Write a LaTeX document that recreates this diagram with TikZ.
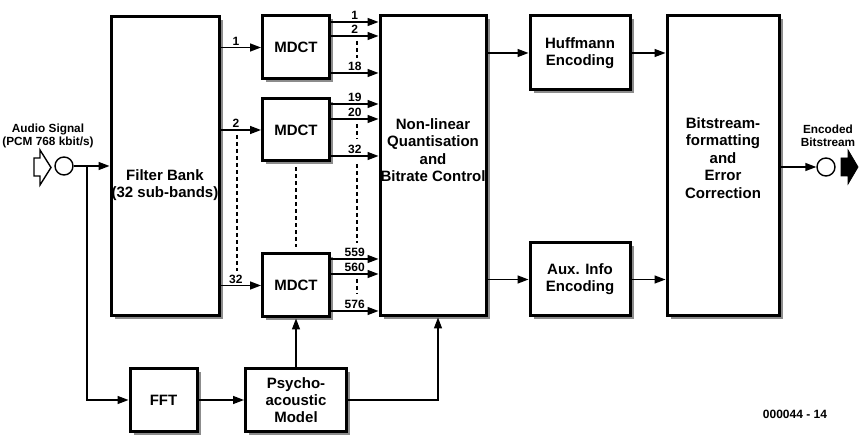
\documentclass[tikz,border=0pt]{standalone}
\usepackage{fontspec}
\setmainfont{Liberation Sans}
\usetikzlibrary{arrows.meta,shadows,calc}
\begin{document}
\begin{tikzpicture}[x=1pt,y=-1pt,
  box/.style={draw, line width=3pt, fill=white,
    drop shadow={shadow xshift=3.5pt, shadow yshift=-3.5pt, fill=black!45, opacity=1},
    inner sep=0pt, font=\fontsize{15}{17}\selectfont\bfseries, align=center},
  btxt/.style={font=\fontsize{15}{17.5}\selectfont\bfseries, align=center, inner sep=0pt},
  conn/.style={line width=1.4pt, -{Triangle[length=11pt,width=8pt]}},
  dsh/.style={line width=1.4pt, dash pattern=on 4pt off 3pt},
  lbl/.style={font=\fontsize{12}{12}\selectfont\bfseries, inner sep=1.5pt, above},
  stxt/.style={font=\fontsize{11.8}{12.5}\selectfont\bfseries, align=center, inner sep=0pt},
  sig/.style={circle, draw, line width=1.4pt, minimum size=18pt, inner sep=0pt, fill=white}
]
\useasboundingbox (0,0) rectangle (865,435);

% main boxes
\node[box, minimum width=108pt, minimum height=299pt] (FB) at (165,166) {};
\node[btxt] (FBt) at (165,185) {Filter Bank\\(32 sub-bands)};

\node[box, minimum width=67pt, minimum height=63pt] (M1) at (296,47.5) {MDCT};
\node[box, minimum width=67pt, minimum height=62pt] (M2) at (296,130) {MDCT};
\node[box, minimum width=67pt, minimum height=63pt] (M3) at (296,285.5) {MDCT};

\node[box, minimum width=106pt, minimum height=300pt] (NL) at (433,166) {};
\node[btxt] (NLt) at (433,150) {Non-linear\\Quantisation\\and\\Bitrate Control};

\node[box, minimum width=100pt, minimum height=74pt] (HF) at (580,53) {Huffmann\\Encoding};
\node[box, minimum width=100pt, minimum height=73pt] (AX) at (580,279.5) {Aux. Info\\Encoding};

\node[box, minimum width=112pt, minimum height=300pt] (BS) at (723,166) {};
\node[btxt] (BSt) at (723,158) {Bitstream-\\formatting\\and\\Error\\Correction};

\node[box, minimum width=67pt, minimum height=63pt] (FFT) at (163.5,400) {FFT};
\node[box, minimum width=101pt, minimum height=63pt] (PM) at (296,400) {Psycho-\\acoustic\\Model};

% input
\draw[line width=1.4pt, fill=white] (34,158) -- (40,158) -- (40,150) -- (51,167.5) -- (40,185) -- (40,176) -- (34,176) -- cycle;
\node[sig] (ci) at (64,166) {};
\node[stxt] (ain) at (48,136) {Audio Signal\\(PCM 768 kbit/s)};
\draw[conn] (ci.east) -- (FB.west |- ci.east);
\coordinate (br) at (87,166);
\draw[conn] (br) |- (FFT.west);
\draw[conn] (FFT.east) -- (PM.west);
\draw[conn] (PM.north) -- (M3.south);
\draw[conn] (PM.east) -| ($(NL.south)+(5,0)$);

% filter bank outputs
\draw[conn] (FB.east |- M1.west) -- node[lbl, pos=.38]{1} (M1.west);
\draw[conn] (FB.east |- M2.west) -- node[lbl, pos=.38]{2} (M2.west);
\draw[conn] (FB.east |- M3.west) -- node[lbl, pos=.38]{32} (M3.west);
\coordinate (fa) at (237,135);
\coordinate (fb) at (237,271);
\draw[dsh] (fa) -- (fb);

% MDCT outputs
\draw[conn] (M1.east |- 0,22) -- node[lbl]{1} (NL.west |- 0,22);
\draw[conn] (M1.east |- 0,36) -- node[lbl]{2} (NL.west |- 0,36);
\draw[conn] (M1.east |- 0,73) -- node[lbl]{18} (NL.west |- 0,73);
\draw[conn] (M2.east |- 0,104) -- node[lbl]{19} (NL.west |- 0,104);
\draw[conn] (M2.east |- 0,119) -- node[lbl]{20} (NL.west |- 0,119);
\draw[conn] (M2.east |- 0,156) -- node[lbl]{32} (NL.west |- 0,156);
\draw[conn] (M3.east |- 0,259) -- node[lbl]{559} (NL.west |- 0,259);
\draw[conn] (M3.east |- 0,274) -- node[lbl]{560} (NL.west |- 0,274);
\draw[conn] (M3.east |- 0,311) -- node[lbl]{576} (NL.west |- 0,311);

\coordinate (da1) at (357,41);  \coordinate (db1) at (357,58);
\coordinate (da2) at (357,124); \coordinate (db2) at (357,139);
\coordinate (da3) at (357,164); \coordinate (db3) at (357,243);
\coordinate (da4) at (357,279); \coordinate (db4) at (357,294);
\draw[dsh] (da1) -- (db1);
\draw[dsh] (da2) -- (db2);
\draw[dsh] (da3) -- (db3);
\draw[dsh] (da4) -- (db4);
\draw[dsh, shorten <=5pt, shorten >=5pt] (M2.south) -- (M3.north);

% to encoders
\draw[conn] (NL.east |- HF.west) -- (HF.west);
\draw[conn] (NL.east |- AX.west) -- (AX.west);
\draw[conn] (HF.east) -- (BS.west |- HF.east);
\draw[conn] (AX.east) -- (BS.west |- AX.east);

% output
\node[sig] (co) at (826,167) {};
\draw[conn] (BS.east |- co.west) -- (co.west);
\draw[fill=black, line width=0.8pt] (841,158) -- (848,158) -- (848,150) -- (858,167) -- (848,184) -- (848,176) -- (841,176) -- cycle;
\node[stxt] (aout) at (828,136) {Encoded\\Bitstream};

\node[font=\fontsize{12}{12}\selectfont\bfseries, inner sep=0pt] (ref) at (795,414) {000044 - 14};
\end{tikzpicture}
\end{document}
